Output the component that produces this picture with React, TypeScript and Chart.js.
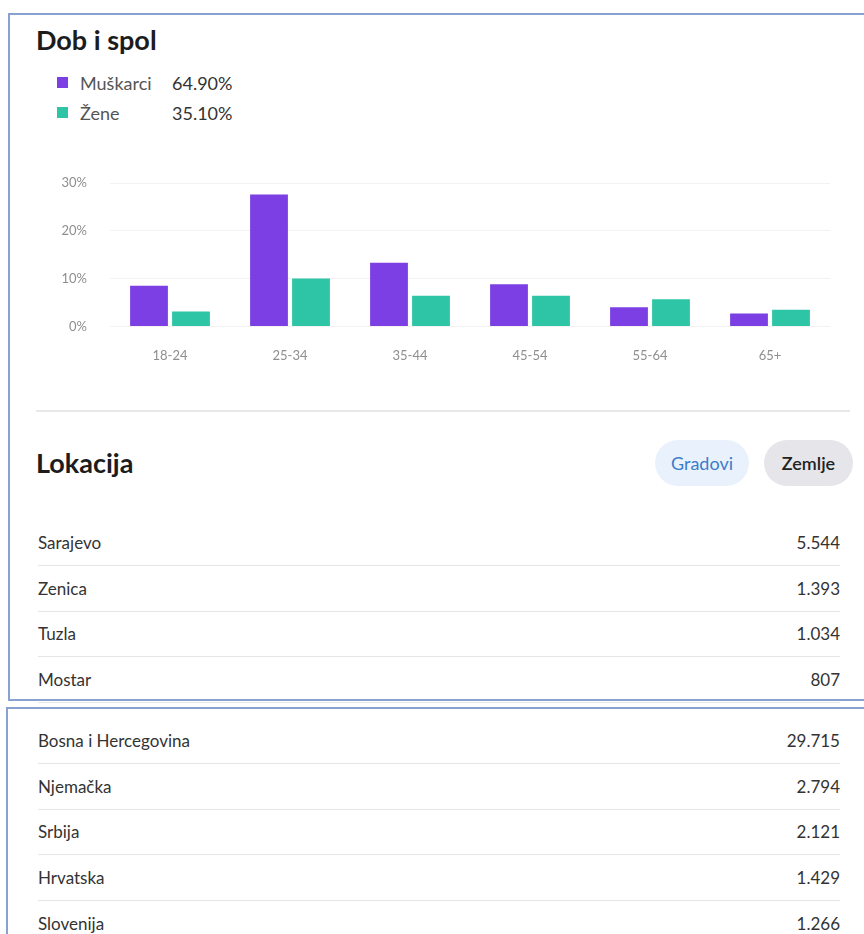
import React, { useEffect, useRef } from 'react';
import { Chart, registerables } from 'chart.js';

Chart.register(...registerables);

const ageGroups = ['18-24', '25-34', '35-44', '45-54', '55-64', '65+'];
const maleShare = [8.5, 27.6, 13.3, 8.8, 4.0, 2.7];
const femaleShare = [3.1, 10.0, 6.4, 6.4, 5.7, 3.5];
const seriesNames = ['Muškarci', 'Žene'];
const seriesTotals = ['64.90%', '35.10%'];
const seriesColors = ['#7b3fe4', '#2ec4a6'];
const yMax = 30;
const yStep = 10;

const cities = ['Sarajevo', 'Zenica', 'Tuzla', 'Mostar'];
const cityCounts = ['5.544', '1.393', '1.034', '807'];
const countries = ['Bosna i Hercegovina', 'Njemačka', 'Srbija', 'Hrvatska', 'Slovenija'];
const countryCounts = ['29.715', '2.794', '2.121', '1.429', '1.266'];

const FONT = 'Lato, "Open Sans", "Noto Sans", sans-serif';

function AgeChart() {
  const ref = useRef<HTMLCanvasElement | null>(null);
  useEffect(() => {
    if (!ref.current) return;
    const chart = new Chart(ref.current, {
      type: 'bar',
      data: {
        labels: ageGroups,
        datasets: [
          { label: seriesNames[0], data: maleShare, backgroundColor: seriesColors[0], categoryPercentage: 0.7, barPercentage: 0.9 },
          { label: seriesNames[1], data: femaleShare, backgroundColor: seriesColors[1], categoryPercentage: 0.7, barPercentage: 0.9 },
        ],
      },
      options: {
        animation: false,
        responsive: true,
        maintainAspectRatio: false,
        layout: { padding: { top: 11, right: 10, bottom: 0, left: 0 } },
        plugins: { legend: { display: false }, tooltip: { enabled: false } },
        scales: {
          x: {
            grid: { display: false, drawTicks: false },
            border: { display: false },
            ticks: { color: '#8e8e8e', font: { size: 13, family: FONT }, padding: 22, maxRotation: 0, autoSkip: false },
          },
          y: {
            min: 0,
            max: yMax,
            ticks: {
              stepSize: yStep,
              color: '#8e8e8e',
              font: { size: 13, family: FONT },
              padding: 0,
              callback: (v: any) => v + '%',
            },
            grid: { color: '#f2f2f2', drawTicks: true, tickLength: 23, tickColor: 'rgba(0,0,0,0)' },
            border: { display: false },
            afterFit: (s: any) => { s.width = 70; },
          },
        },
      },
    });
    return () => chart.destroy();
  }, []);
  return (
    <div style={{ position: 'absolute', left: 40, top: 172, width: 800, height: 214 }}>
      <canvas ref={ref} />
    </div>
  );
}

function Txt(props: { x?: number; right?: number; cy: number; size: number; color: string; weight?: number; children: any }) {
  const h = 34;
  const st: any = {
    position: 'absolute',
    top: props.cy - h / 2,
    height: h,
    lineHeight: h + 'px',
    fontSize: props.size,
    color: props.color,
    fontWeight: props.weight || 400,
    whiteSpace: 'nowrap',
    fontFamily: FONT,
  };
  if (props.x !== undefined) st.left = props.x;
  if (props.right !== undefined) st.right = props.right;
  return <div style={st}>{props.children}</div>;
}

function Rows(props: { names: string[]; values: string[]; firstCy: number; step: number }) {
  const out: any[] = [];
  props.names.forEach((n, i) => {
    const cy = props.firstCy + i * props.step;
    out.push(<Txt key={'n' + i} x={38} cy={cy} size={17} color="#333">{n}</Txt>);
    out.push(<Txt key={'v' + i} right={24} cy={cy} size={17} color="#333">{props.values[i]}</Txt>);
    out.push(
      <div key={'l' + i} style={{ position: 'absolute', left: 38, top: cy + 22, width: 802, height: 1, background: '#e6e6e6' }} />
    );
  });
  return <>{out}</>;
}

export default function App() {
  return (
    <div style={{ position: 'absolute', left: 0, top: 0, width: 864, height: 934, overflow: 'hidden', background: '#fff', fontFamily: FONT }}>
      <div style={{ position: 'absolute', left: 8, top: 13, width: 900, height: 684, border: '2px solid #8aa2d2' }} />
      <div style={{ position: 'absolute', left: 6, top: 707, width: 900, height: 400, border: '2px solid #8aa2d2' }} />

      <Txt x={36} cy={40} size={27} color="#1c1c1c" weight={700}>Dob i spol</Txt>
      {seriesNames.map((n, i) => (
        <React.Fragment key={n}>
          <div style={{ position: 'absolute', left: 57, top: 77 + i * 30, width: 11, height: 11, background: seriesColors[i] }} />
          <Txt x={80} cy={83 + i * 30} size={18} color="#555">{n}</Txt>
          <Txt x={172} cy={83 + i * 30} size={18} color="#333">{seriesTotals[i]}</Txt>
        </React.Fragment>
      ))}

      <AgeChart />

      <div style={{ position: 'absolute', left: 36, top: 410, width: 814, height: 2, background: '#e8e8e8' }} />

      <Txt x={36} cy={463} size={27} color="#1c1c1c" weight={700}>Lokacija</Txt>
      <div style={{ position: 'absolute', left: 655, top: 440, width: 94, height: 46, borderRadius: 23, background: '#e9f2fc', color: '#3d7cc9', fontSize: 18, lineHeight: '46px', textAlign: 'center', fontFamily: FONT }}>Gradovi</div>
      <div style={{ position: 'absolute', left: 764, top: 440, width: 89, height: 46, borderRadius: 23, background: '#e6e6ea', color: '#222', fontSize: 18, fontWeight: 600, lineHeight: '46px', textAlign: 'center', fontFamily: FONT }}>Zemlje</div>

      <Rows names={cities} values={cityCounts} firstCy={543} step={45.5} />
      <Rows names={countries} values={countryCounts} firstCy={741} step={45.7} />
    </div>
  );
}
